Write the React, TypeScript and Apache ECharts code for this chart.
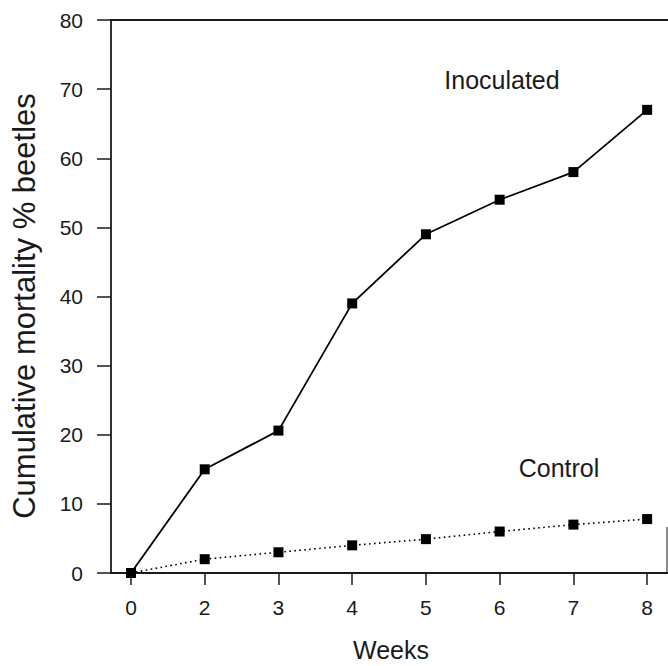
import React, { useEffect, useRef } from "react";
import * as echarts from "echarts";

const weeks = ["0", "2", "3", "4", "5", "6", "7", "8"];
const inoculated = [0, 15, 20.6, 39, 49, 54, 58, 67];
const control = [0, 2, 3, 4, 4.9, 6, 7, 7.8];
const yTicks = [0, 10, 20, 30, 40, 50, 60, 70, 80];

const FONT = "'Liberation Sans', Arial, sans-serif";
const INK = "#1a1a1a";

export default function App() {
  const ref = useRef<HTMLDivElement>(null);
  useEffect(() => {
    if (!ref.current) return;
    const chart = echarts.init(ref.current, undefined, { renderer: "svg" });
    const idx = weeks.map((_, i) => i);
    chart.setOption({
      animation: false,
      backgroundColor: "#ffffff",
      grid: { left: 111, right: 0, top: 20, bottom: 93, containLabel: false },
      xAxis: [
        {
          type: "value",
          min: -0.271,
          max: 7.283,
          axisLine: { show: true, onZero: false, lineStyle: { color: INK, width: 1.8 } },
          axisTick: {
            show: true,
            customValues: idx,
            length: 12,
            inside: false,
            lineStyle: { color: INK, width: 1.5 },
          },
          axisLabel: {
            show: true,
            customValues: idx,
            margin: 24,
            fontSize: 21,
            fontFamily: FONT,
            color: INK,
            formatter: (v: number) => weeks[Math.round(v)] ?? "",
          },
          splitLine: { show: false },
        },
        {
          type: "value",
          position: "top",
          min: -0.271,
          max: 7.283,
          axisLine: { show: true, onZero: false, lineStyle: { color: INK, width: 1.8 } },
          axisTick: { show: false },
          axisLabel: { show: false },
          splitLine: { show: false },
        },
      ],
      yAxis: {
        type: "value",
        min: yTicks[0],
        max: yTicks[yTicks.length - 1],
        interval: 10,
        axisLine: { show: true, onZero: false, lineStyle: { color: INK, width: 1.8 } },
        axisTick: { show: true, length: 14, lineStyle: { color: INK, width: 1.5 } },
        axisLabel: { margin: 28, fontSize: 21, fontFamily: FONT, color: INK },
        splitLine: { show: false },
      },
      graphic: [
        {
          type: "text",
          x: 24,
          y: 306,
          rotation: Math.PI / 2,
          style: {
            text: "Cumulative mortality % beetles",
            font: `31px ${FONT}`,
            fill: INK,
            align: "center",
            verticalAlign: "middle",
          },
        },
        {
          type: "text",
          x: 391,
          y: 650,
          style: {
            text: "Weeks",
            font: `25px ${FONT}`,
            fill: INK,
            align: "center",
            verticalAlign: "middle",
          },
        },
        {
          type: "text",
          x: 502,
          y: 80,
          style: {
            text: "Inoculated",
            font: `25px ${FONT}`,
            fill: INK,
            align: "center",
            verticalAlign: "middle",
          },
        },
        {
          type: "text",
          x: 559,
          y: 468,
          style: {
            text: "Control",
            font: `25px ${FONT}`,
            fill: INK,
            align: "center",
            verticalAlign: "middle",
          },
        },
        {
          type: "line",
          shape: { x1: 667, y1: 527, x2: 667, y2: 573 },
          style: { stroke: INK, lineWidth: 1 },
        },
      ],
      series: [
        {
          name: "Inoculated",
          type: "line",
          xAxisIndex: 0,
          data: idx.map((i) => [i, inoculated[i]]),
          symbol: "rect",
          symbolSize: 10,
          itemStyle: { color: "#000" },
          lineStyle: { color: "#000", width: 1.8 },
          z: 3,
        },
        {
          name: "Control",
          type: "line",
          xAxisIndex: 0,
          data: idx.map((i) => [i, control[i]]),
          symbol: "rect",
          symbolSize: 10,
          itemStyle: { color: "#000" },
          lineStyle: { color: "#000", width: 1.6, type: [1.6, 3.4] },
          z: 3,
        },
      ],
    });
    return () => chart.dispose();
  }, []);
  return <div ref={ref} style={{ width: 668, height: 666, position: "absolute", left: 0, top: 0 }} />;
}
